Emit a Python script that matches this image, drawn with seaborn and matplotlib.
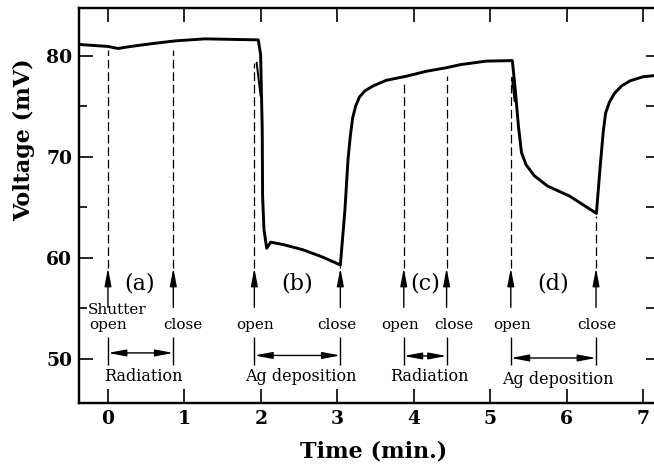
import matplotlib
matplotlib.use("Agg")
import matplotlib.pyplot as plt
import pandas as pd
import seaborn as sns

# ---------------- data ----------------
time_min = [-0.38, -0.2, 0.0, 0.13, 0.3, 0.6, 0.88, 1.27, 1.6, 1.966,
            1.997, 2.018, 2.023, 2.041, 2.076, 2.13, 2.3, 2.55, 2.8, 3.04,
            3.07, 3.10, 3.14, 3.17, 3.20, 3.24, 3.29, 3.36, 3.47, 3.64,
            3.90, 4.17, 4.43, 4.61, 4.95, 5.29,
            5.33, 5.37, 5.41, 5.47, 5.58, 5.75, 6.04, 6.39,
            6.44, 6.48, 6.51, 6.56, 6.63, 6.72, 6.83, 7.0, 7.19]
voltage_mV = [81.1, 81.0, 80.9, 80.7, 80.9, 81.2, 81.45, 81.65, 81.6, 81.55,
              80.1, 72.7, 66.1, 62.8, 60.95, 61.55, 61.3, 60.8, 60.1, 59.3,
              62.0, 64.75, 69.7, 72.0, 73.8, 75.0, 75.9, 76.5, 77.0, 77.55,
              77.95, 78.45, 78.8, 79.1, 79.45, 79.5,
              76.5, 73.0, 70.4, 69.2, 68.1, 67.1, 66.1, 64.4,
              69.1, 72.5, 74.3, 75.4, 76.3, 77.0, 77.5, 77.9, 78.05]

spike_b_time = [1.945, 1.997]
spike_b_volt = [79.3, 76.0]
spike_d_time = [5.285, 5.32]
spike_d_volt = [77.8, 75.5]

event_times = [0.0, 0.855, 1.915, 3.04, 3.87, 4.43, 5.27, 6.385]
event_labels = ["open", "close", "open", "close", "open", "close", "open", "close"]
dash_top_mV = [80.5, 80.5, 79.3, 59.3, 77.3, 78.0, 77.7, 64.1]

period_labels = ["(a)", "(b)", "(c)", "(d)"]
period_names = ["Radiation", "Ag deposition", "Radiation", "Ag deposition"]

x_ticks = [0, 1, 2, 3, 4, 5, 6, 7]
y_ticks = [50, 60, 70, 80]
y_minor = [55, 65, 75]
right_ticks = [50, 55, 60, 65, 70, 75, 80]

# ---------------- layout / style ----------------
sns.set_theme(style="ticks")
plt.rcParams["font.family"] = ["DejaVu Serif"]
plt.rcParams.update({"axes.edgecolor": "black", "text.color": "black",
                     "axes.labelcolor": "black", "xtick.color": "black",
                     "ytick.color": "black"})

fig = plt.figure(figsize=(6.54, 4.67), dpi=100)
ax = fig.add_axes([79 / 654, 64 / 467, 582 / 654, 395 / 467])

df = pd.DataFrame({"t": time_min, "v": voltage_mV})
sns.lineplot(data=df, x="t", y="v", sort=False, estimator=None,
             color="black", lw=2.1, ax=ax)
sns.lineplot(x=spike_b_time, y=spike_b_volt, sort=False, estimator=None,
             color="black", lw=1.4, ax=ax)
sns.lineplot(x=spike_d_time, y=spike_d_volt, sort=False, estimator=None,
             color="black", lw=1.4, ax=ax)

arrow_tip = 59.0
arrow_tail = 55.1
ax.vlines(event_times, arrow_tip, dash_top_mV, colors="black",
          linestyles=(0, (7, 3)), lw=0.9)
for t in event_times:
    ax.annotate("", xy=(t, arrow_tip), xytext=(t, arrow_tail),
                arrowprops=dict(arrowstyle="-|>,head_length=0.9,head_width=0.17",
                                lw=1.0, color="black", shrinkA=0, shrinkB=0))

label_x = [0.0, 0.985, 1.92, 2.99, 3.82, 4.53, 5.29, 6.39]
text_kw = dict(fontsize=11, ha="center", va="baseline", color="black")
for x, lab in zip(label_x, event_labels):
    ax.text(x, 53.0, lab, **text_kw)
ax.text(-0.27, 54.45, "Shutter", fontsize=11, ha="left", va="baseline")

period_x = [0.41, 2.47, 4.15, 5.83]
for x, lab in zip(period_x, period_labels):
    ax.text(x, 57.5, lab, fontsize=16, ha="center", va="center")

bracket_y = [50.6, 50.35, 50.3, 50.1]
for i in range(4):
    s, e = event_times[2 * i], event_times[2 * i + 1]
    ax.vlines([s, e], 49.4, 52.2, colors="black", lw=1.0)
    ax.annotate("", xy=(e, bracket_y[i]), xytext=(s, bracket_y[i]),
                arrowprops=dict(arrowstyle="<|-|>,head_length=0.9,head_width=0.17",
                                lw=1.0, color="black", shrinkA=0, shrinkB=0))

name_x = [0.458, 2.52, 4.21, 5.89]
name_y = [47.8, 47.8, 47.8, 47.5]
for x, y, lab in zip(name_x, name_y, period_names):
    ax.text(x, y, lab, fontsize=11.5, ha="center", va="baseline")

ax.set_xlim(-0.379, 7.235)
ax.set_ylim(45.65, 84.7)
ax.set_xticks(x_ticks)
ax.set_yticks(y_ticks)
ax.set_yticks(y_minor, minor=True)
ax.tick_params(which="major", direction="in", length=10, width=1.2,
               top=True, right=False, labelsize=13.5, pad=5, color="black")
ax.tick_params(which="minor", direction="in", length=6, width=1.2,
               left=True, right=False, color="black")
for lab in ax.get_xticklabels() + ax.get_yticklabels():
    lab.set_fontweight("bold")

# right-hand ticks: all the same length
ax2 = ax.twinx()
ax2.set_ylim(ax.get_ylim())
ax2.set_yticks(right_ticks)
ax2.tick_params(axis="y", direction="in", length=11, width=1.2,
                labelright=False, color="black")
ax2.grid(False)

for a in (ax, ax2):
    for s in a.spines.values():
        s.set_linewidth(1.6)
        s.set_color("black")

ax.set_xlabel("Time (min.)", fontsize=16, fontweight="bold")
ax.set_ylabel("Voltage (mV)", fontsize=16, fontweight="bold")
ax.xaxis.set_label_coords((374 - 79) / 582, -0.0962)
ax.yaxis.set_label_coords((35 - 79) / 582, 0.666)

fig.savefig("out.png", dpi=100)
